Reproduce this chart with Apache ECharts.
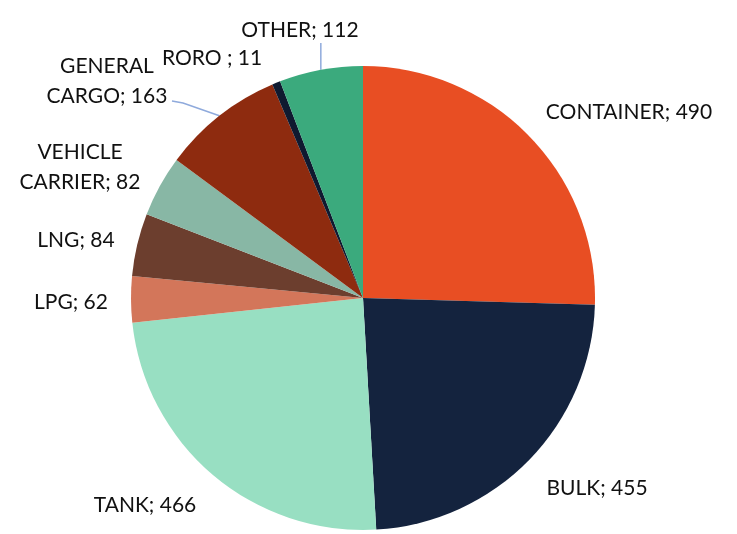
<!DOCTYPE html>
<html>
<head>
<meta charset="utf-8">
<script src="https://cdn.jsdelivr.net/npm/echarts@6/dist/echarts.min.js"></script>
<style>
html,body{margin:0;padding:0;background:#fff;}
#chart{width:737px;height:534px;}
</style>
</head>
<body>
<div id="chart"></div>
<script>
// Data
const categories = ['CONTAINER', 'BULK', 'TANK', 'LPG', 'LNG', 'VEHICLE\nCARRIER', 'GENERAL\nCARGO', 'RORO ', 'OTHER'];
const values = [490, 455, 466, 62, 84, 82, 163, 11, 112];

// Styles / layout (kept separate from data)
const colors = ['#E84E23', '#14233E', '#98DFC2', '#D3765A', '#6C3E2E', '#88B7A5', '#8E2B0F', '#0F1A30', '#3BAA7D'];
const showLine = [false, false, false, false, false, false, true, false, true];
const labelPos = [[629, 112], [597, 488], [145, 505], [71, 302], [76, 240], [80, 167], [107, 81], [212, 58], [300, 30]];
const CX = 363, CY = 298, R = 232;

const total = values.reduce((a, b) => a + b, 0);
function midEdge(i) {
  let cum = 0;
  for (let k = 0; k < i; k++) cum += values[k];
  const a = (cum + values[i] / 2) / total * 2 * Math.PI;
  return [CX + R * Math.sin(a), CY - R * Math.cos(a)];
}
function linePoints(i) {
  const e = midEdge(i);
  if (i === 8) return [e, [e[0], 56], [e[0], 43]];
  if (i === 6) return [e, [183, 103], [172, 101]];
  return null;
}

const chart = echarts.init(document.getElementById('chart'), null, {renderer: 'canvas'});
chart.setOption({
  animation: false,
  series: [{
    type: 'pie',
    center: [CX, CY],
    radius: R,
    startAngle: 90,
    clockwise: true,
    avoidLabelOverlap: false,
    data: categories.map((c, i) => ({
      name: c,
      value: values[i],
      itemStyle: {color: colors[i]},
      labelLine: {show: showLine[i]}
    })),
    label: {
      show: true,
      position: 'outside',
      formatter: p => p.name + '; ' + p.value,
      fontFamily: 'Lato',
      fontSize: 21,
      lineHeight: 30,
      color: '#111',
      align: 'center'
    },
    labelLine: {
      lineStyle: {color: '#8FAADC', width: 1.5},
      length: 10,
      length2: 10
    },
    labelLayout: function (p) {
      const pos = labelPos[p.dataIndex];
      const o = {x: pos[0], y: pos[1], align: 'center', verticalAlign: 'middle'};
      const lp = linePoints(p.dataIndex);
      if (lp) o.labelLinePoints = lp;
      return o;
    }
  }]
});
</script>
</body>
</html>
